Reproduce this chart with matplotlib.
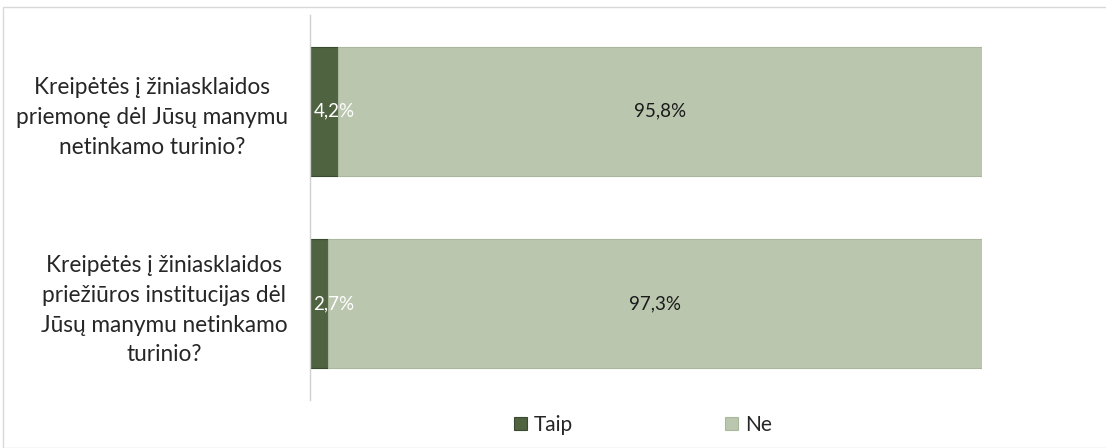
import matplotlib
matplotlib.use("Agg")
import matplotlib.pyplot as plt
from matplotlib.patches import Rectangle

categories = [
    "Kreipėtės į žiniasklaidos\npriemonę dėl Jūsų manymu\nnetinkamo turinio?",
    "Kreipėtės į žiniasklaidos\npriežiūros institucijas dėl\nJūsų manymu netinkamo\nturinio?",
]
taip = [4.2, 2.7]
ne = [95.8, 97.3]
series_names = ["Taip", "Ne"]

c_taip = "#4F6341"
c_ne = "#BAC6AE"

plt.rcParams['font.family'] = ['Lato', 'DejaVu Sans']

fig = plt.figure(figsize=(11.06, 4.48), dpi=100)
W, H = 1106, 448
ax = fig.add_axes([310 / W, 1 - 400 / H, (982 - 310) / W, (400 - 15) / H])

y = list(range(len(categories)))
b1 = ax.barh(y, taip, height=0.67, color=c_taip, edgecolor="#3A4A30", linewidth=0.8, label=series_names[0])
b2 = ax.barh(y, ne, left=taip, height=0.67, color=c_ne, edgecolor="#A9B79C", linewidth=0.8, label=series_names[1])

ax.set_xlim(0, 100)
ax.set_ylim(1.5, -0.5)
ax.set_yticks(y)
ax.set_yticklabels(categories, fontsize=16.3, color="#262626", multialignment="center", linespacing=1.52)
ax.tick_params(axis="y", length=0, pad=16)
ax.set_xticks([])
for s in ["top", "right", "bottom"]:
    ax.spines[s].set_visible(False)
ax.spines["left"].set_color("#D0D0D0")
ax.spines["left"].set_linewidth(1)

for i in y:
    ax.text(0.5, i, f"{taip[i]:.1f}%".replace(".", ","), ha="left", va="center",
            color="white", fontsize=13.5)
    ax.text(taip[i] + ne[i] / 2, i, f"{ne[i]:.1f}%".replace(".", ","), ha="center",
            va="center", color="#1a1a1a", fontsize=13.5)

leg = fig.legend(handles=[b1, b2], labels=series_names, loc="center",
                 bbox_to_anchor=(643 / W, 1 - 425 / H), ncol=2, frameon=False,
                 fontsize=15, handlelength=0.6, handleheight=0.6,
                 columnspacing=7.3, handletextpad=0.35)
for t in leg.get_texts():
    t.set_color("#262626")

fig.patches.append(Rectangle((3 / W, 0), 1.2, 1 - 7 / H, transform=fig.transFigure,
                             fill=False, edgecolor="#D9D9D9", linewidth=1))

fig.savefig("out.png", dpi=100)
